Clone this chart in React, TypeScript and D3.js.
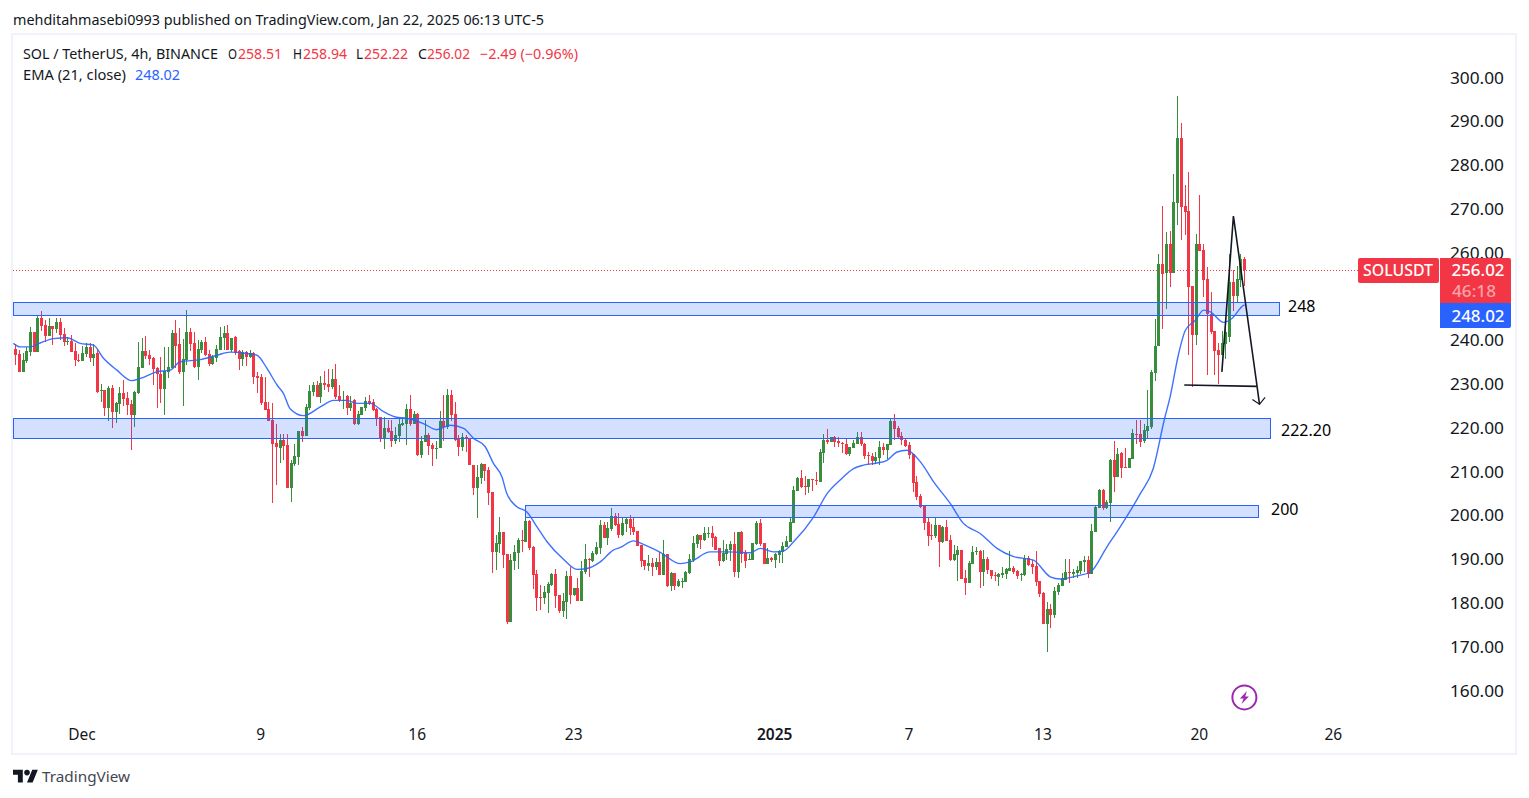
import React from "react";
import * as d3 from "d3";

const opens = [
237.9,236.7,232.7,235.2,237.3,241.8,237.3,245,243.4,240.9,
243.1,242.5,244,241.3,239.6,239.8,237.4,235.5,235.1,236.7,
238.4,235.8,236.9,228.4,228.5,224.5,229,223.6,225.4,227.8,
226.7,225.3,222.8,227.8,233.5,237.4,236.5,235.8,233.5,232.3,
228.8,232.7,233.5,241.5,239,232.6,235.4,241.8,239.3,233.8,
237.7,239.5,236.7,234.5,235.8,237.7,240.4,241.5,237.6,240.6,
237.4,235.6,237.3,236.1,237,231.7,231.5,225.8,224.2,221.7,
216.4,215.3,217.1,216,206.1,211.6,213.2,219.2,218,224.4,
228.1,229.7,226.9,230.1,229.9,229.3,231,227.2,226.2,227.2,
224.4,226.2,220.8,222.8,224.4,226,225.8,224.2,222.4,217.6,
219.9,219.2,216.9,218,220.5,220.8,224.2,220.8,223,213.7,
216.7,218.3,216,215.3,215.3,221.4,220.1,227.4,223,217.3,
215.5,217.8,217.6,211.4,206.1,208.4,211.6,210.3,205.2,191.5,
193.4,196.1,191.1,175.6,189.5,191.3,194.3,193.8,198.6,192.7,
186.5,181.2,181,182.2,184,186.5,181.7,178,180.1,186,
181.7,183.3,180.3,187,189.9,189.5,191.1,192.4,197.7,194.7,
196.8,199.8,197.9,195.4,197.9,199.1,197.2,196.3,193.1,189.7,
188.3,189,188.1,189.2,186.3,191.1,183.8,186.7,183.8,184.7,
184.7,186.7,189.7,193.4,195.4,194.2,195.8,195.9,195,192.4,
189.5,191.1,192,193.3,187,196.1,191.3,189.8,189.7,193.3,
198.2,193.6,188.8,190.2,189.7,190.8,191.5,192.7,193.8,198.2,
205.5,208.4,206.6,206.4,208.2,208,207.5,214.1,217.1,216.6,
217.8,216.9,216.4,216.2,213.9,215.3,216.2,217.8,216.3,213.7,
213.4,212.3,213,215.5,214.8,216,221.4,219.8,218,217.1,
216,213.9,207.5,204.3,202,198.4,195.4,195.2,197.7,193.8,
197.2,194.3,189.7,190.8,192,185.6,184.4,188.8,191.5,191.8,
187,189.9,187.4,186.3,185.8,186.4,186.5,187.3,187.9,187.2,
186.3,186.3,190.2,188.8,188.3,184.9,182.2,175.1,178.5,177.1,
182.4,183.8,185.1,187,186.5,186.7,187.2,189.2,189.7,186.5,
196.1,201.6,205.7,201.6,202.7,212.5,208.7,214.1,210.9,210.7,
212.8,218.6,218.5,216.9,219.2,220.1,232.5,238.6,257.4,255.2,
261.9,255.3,271.3,286.1,270.5,269.4,252.3,241.1,261.9,260.5,
253.9,246,242,237.6,236.5,239,240.7,253.2,250,253.6,258.51,
];

const closes = [
236.5,232.7,235.4,237.4,241.8,237.3,245,243.1,240.9,243.1,
242.5,244,241.1,239.6,239.7,237.2,235.4,235.4,237,238.4,
235.8,236.7,228.1,228.5,224.5,229,223.6,225.6,227.8,226.5,
225.1,222.8,228.1,233.7,237.4,236.4,235.7,233.3,232.2,228.8,
232.9,233.7,241.5,238.6,232.6,235.6,241.8,239,233.7,237.9,
239.5,236.5,234.5,236.1,237.9,240.6,241.5,237.7,240.4,237,
235.6,237.3,236.1,237,231.5,231.3,225.6,224,221.4,216.2,
215.5,217.1,215.7,206.1,211.9,213.5,219.2,218,224.6,228.3,
229.7,226.9,230.1,229.7,229.3,231,226.9,226.2,226.3,224.4,
225.6,220.8,223,224.6,226,225.5,224,222.1,217.6,219.9,
218.9,216.9,218.2,220.8,221,224.2,220.8,223,213.7,216.9,
218.3,215.7,215.1,215.4,221.4,220.1,227.4,222.8,217.1,215.5,
217.8,217.6,211.4,206.1,208.7,211.6,210,205,191.5,193.6,
196.1,190.8,175.6,189.7,191.5,194.3,194.1,198.6,192.4,186.3,
181,181,182.4,184.2,186.5,181.5,178,180.3,186,181.7,
183.3,180.3,187.2,189.9,189.8,191.3,192.7,197.7,194.7,197,
199.8,197.7,195.4,198.2,199.1,197,196.1,192.9,189.5,188.3,
189,188.1,189.2,186.3,191.1,183.8,186.7,183.8,184.9,184.9,
187,189.9,193.6,195.4,194.3,195.9,195.9,194.7,192.1,189.5,
191.3,192.2,193.3,187,196.1,191.1,189.5,189.9,193.6,198.2,
193.3,188.8,190.2,189.7,191.1,191.8,192.9,194,198.4,205.7,
208.4,206.4,206.4,208.2,208,207.8,214.4,217.1,216.6,217.8,
216.6,216.4,216.2,213.9,215.5,216.4,217.8,216.2,213.5,213.4,
212.3,213.2,215.5,214.8,216.2,221.4,219.6,217.8,217.1,215.7,
213.7,207.3,204.1,201.8,198.2,195.2,195.3,197.7,193.8,197.2,
194,189.7,191.1,192,185.4,184.4,189,191.5,191.8,187,
189.9,187.4,186,186.1,186.5,186.7,187.6,187.9,187,186,
186.5,190.2,188.6,188.1,184.7,181.9,175.1,178.5,177.1,182.6,
184,185.6,187,186.7,187,187.4,189.5,189.7,186.5,196.3,
201.8,205.7,201.6,203,212.5,208.7,213.9,210.7,210.7,213,
218.7,218.5,216.6,219.4,220.3,232.7,238.7,257.4,255,261.9,
255.3,271.4,286.1,270.4,269.2,252.1,241.1,261.9,260.3,253.6,
246,241.8,237.4,236.5,239.2,241.7,253.2,250,253.9,258.4,256.02,
];

const highs = [
239,237.7,236.9,238.3,243,241.9,245.6,246.6,244.5,245.1,
243.1,245,245.1,242.8,240.6,241.1,239.2,236.7,238.6,239.2,
239.2,239,238,230,228.5,229.4,229.7,225.8,229.2,230.8,
228.1,226.2,228.3,239.6,240.4,240.9,237.7,236.1,233.7,236.1,
238.4,238.3,242.2,244.5,242.7,240.3,246.8,242.7,241.8,239.9,
239.9,240.6,237.7,236.5,238.8,243,243.1,243.4,240.4,240.9,
237.7,237.7,237.4,237.7,237.3,232.6,232.2,231.6,225.8,225.6,
220.9,218.5,218.5,218.5,212.5,216.2,219.2,220.1,225.3,229.7,
230.4,230.6,231.7,232.9,233.3,233.3,234.5,229.7,228.3,227.4,
227.2,226.5,223.7,224.6,226.9,227.4,226.5,224.4,222.4,222.4,
221.7,221.7,220.1,221.9,222.1,225.3,227.4,223.7,223.3,218,
221.7,218.7,216.4,216.9,223.7,227.4,228.8,228.5,225.8,218.3,
218.7,218.3,217.6,211.4,211.4,211.8,211.6,210.9,205.2,195.4,
199.5,196.1,191.1,191.1,193.1,194.7,196.5,202,198.8,192.9,
187.4,184,183.8,184.7,186.7,187.7,181.7,182.2,187.2,188.1,
183.3,185.6,189.5,193.4,190.2,191.8,193.8,198.8,198.4,198.4,
201.6,200.4,200.4,199.3,199.5,200,199.4,196.3,193.1,189.8,
190.8,190.2,190.2,191.5,194.3,191.2,187,186.7,185.3,185.6,
187.2,191.1,195.2,195.6,195.4,197.2,197.2,197.5,195.2,192.4,
194.3,193.3,194,196.1,196.1,196.3,192,191.1,193.6,198.6,
199.1,193.6,192.4,190.5,191.3,192,193.8,195.2,199.5,206.6,
208.7,210.3,208.9,208.2,208.2,209.8,215,218.5,219.6,217.8,
218,217.8,216.6,217.6,215.5,217.1,218.9,218.9,216.4,214.4,
214.1,214.4,216.9,216.4,216.2,221.9,223,220.3,218.9,217.3,
216.6,213.9,208.9,204.8,202,199.3,197.9,199.3,197.7,197.5,
198.8,195.4,193.1,192.9,192,187.4,189.5,192.9,192.7,192,
192,190.4,187.4,187,186.7,188.1,187.9,191.8,188.3,187.4,
186.7,190.8,190.6,189.7,191.8,184.9,182.4,180.1,179.7,183.5,
184.4,186.7,189.9,189.9,187.6,188.3,189.5,190.6,190.6,197.9,
202,205.9,205.9,203.4,212.7,216.9,215.3,214.4,215.3,213,
219.6,221.8,221.8,220.9,228.5,233.1,244.7,259.7,270.5,264.6,
264.8,277.9,295.7,289.5,275.3,278.3,252.3,264.1,273.1,261.9,
256.6,250.9,242,239.2,242,244.5,259.7,255.9,256.8,259.6,258.94,
];

const lows = [
234.2,232.7,232.7,234.8,236.4,237.3,237.3,242.1,239.6,240.9,
238.8,241.5,239.9,238.6,238.8,237.2,234,234.9,235.1,236,
235,234,227.8,225.9,222.6,221.5,219.9,221.1,223,225,
222.8,214.8,220.2,227.6,233.5,235.6,234.2,229.7,224.5,225.6,
222.8,231.3,233.5,233.5,232.2,224.9,234.2,237.4,233.5,230.8,
236.9,236.3,234,234.2,235,237.7,237.7,237.7,237.3,236.5,
233.1,234,234,235.8,229.9,227.8,225.1,224,221.4,202.7,
206.8,211.9,212.5,206.1,203,211.2,211.4,216.6,218,224,
227.2,226.9,225.6,228.5,228.1,228.7,226.5,225.8,224.2,222.8,
223.7,220.5,220.5,222.8,223.7,225.1,223.7,220.3,216.7,215.1,
218.7,215.5,216.2,216.7,220.3,216,220.3,220.8,213.5,213,
216.7,213.7,211.2,212.8,215.3,216.9,219.6,221.4,216.9,213.5,
214.6,214.4,211.4,204.6,199.3,207.1,207.7,202.3,186.7,187.4,
191.3,187.9,175.1,175.6,187.4,187.6,191.5,193.8,192,183.1,
178.1,178.3,179.7,177.6,183.8,178.7,177.6,176.7,176.2,179.7,
181.5,180.3,180.3,186.5,185.8,189.3,190.8,191.1,194.7,193.1,
196.3,197.5,194.7,195.2,196.2,195.4,195.4,192.9,188.2,187.4,
187.2,186.1,187.4,186.3,186.3,183.5,182.6,182.9,183.6,183.3,
184.7,186.6,189.2,192.4,192.2,194,194.7,192.7,192,188.3,
189.2,189.7,189.5,185.8,185.6,189,187.9,189.7,189.7,193.1,
192.9,188.8,188.8,189.3,187.9,189,189,192.7,193.8,198.2,
205.5,206.1,204.5,205,205.5,206.8,207.5,211.9,216.2,216.6,
215.5,215.5,214.1,213.7,213.5,215.3,216.2,215.7,212.8,211.4,
211.4,211.6,211.4,213.7,212.8,216,217.1,217.3,216,215.5,
212.8,205.2,203.4,201.6,196.6,192.9,194.3,194.7,188.1,193.6,
194,189.5,189.5,184.9,185.4,181.7,184.4,188.8,190.8,183.3,
183.8,186.5,185.4,184.9,183.8,185.6,185.4,187.2,186.5,185.4,
184.9,186,188.3,186.5,183.8,181.2,175.1,168.7,174.2,176.5,
181.7,183.8,185.1,184.4,185.6,185.6,186.5,187,185.6,186.5,
196.1,201.6,201.1,201.3,198.4,205.2,208.7,208.4,210.7,210.7,
212.8,216.2,215.6,216.4,217.5,219.6,230.6,238.6,242.5,247.1,
252.1,255.3,266.2,262.8,263.9,236.5,229.3,238.8,260.3,249.8,
231.9,241.3,231.9,229.9,236.5,235.7,239.6,246.6,248.6,252,252.22,
];

const emaIdx = [-0.6,1.2,3.9,6.6,10.2,13.8,17.3,20.9,23.6,27.2,31.2,33.5,37.9,41.5,44.2,49.6,54.1,57.6,62.1,64.8,67.5,70.2,71.9,73.7,77.3,81.8,
85.4,89,91.6,95.2,98.8,102,105.1,109.5,113.1,116.7,120.3,123,126.1,128.3,130.6,131.9,134.6,137.3,140,142.7,147.1,150.7,153.4,157,160.5,162.4,
165.9,168.6,173.1,178.5,181.1,186.5,191,197.3,200,203.5,206.2,208.9,214.3,217.9,221.4,225,227.7,231.3,234,236.7,239.3,242.9,
246.5,251,254.5,259,263.5,268,273.3,277.8,280.5,285,288.6,293,296.6,302,305.5,308.5,310,312.3,314.1,316.8,319,320.8,324.4,326.6,329.7,330];
const emaVal = [239.2,238.4,238.4,239.3,240.3,240.5,239.2,238.8,235.8,233.1,230.7,231.2,232.7,233.1,235,235.5,236.5,237.2,236.9,236.5,233.5,229.7,227.8,224.3,222.7,224.7,
226.2,226.2,225.5,225.5,223.6,222.4,222.1,220.9,219.5,220.5,219.8,217.5,215.6,211.8,208.7,204.9,201.9,200.7,197.3,193.9,189.9,187.6,187.8,189.3,192,192.6,
194.1,193.3,191.5,188.9,189.3,191.6,191.6,191.4,192.4,191.6,191.8,193.9,199.6,204.9,208,210.6,211.4,211.9,212.5,214.4,214.8,212.2,
207.6,202.6,198.1,195.8,192.4,190.5,189.7,185.9,185.4,186.1,187,192.7,197.3,204.9,210.7,222,227,236.9,242.2,244.5,246.8,246.4,244,244.9,247.9,248.02];

const priceTicks = [300,290,280,270,260,240,230,220,210,200,190,180,170,160];
const timeTickIdx = [18,66,108,150,204,240,276,318,354];
const timeTickLabels = ["Dec","9","16","23","2025","7","13","20","26"];

const zoneLabels = ["248","222.20","200"];
const zoneTop = [248.55,222.2,202.2];
const zoneBottom = [245.6,217.5,199.5];
const zoneStart = [-0.6,-0.6,136.9];
const zoneEnd = [339.3,336.9,333.5];
const zoneLabelGap = [9,11,13];
const zoneLabelShift = [-3,2,-2];

const drawnIdx = [323.9,327,333.3,334];
const drawnPrice = [232.7,268.3,229.7,225.3];
const headIdx = [332.1,334,335.5];
const headPrice = [226.4,225.3,226.9];
const floorIdx = [313.8,333.3];
const floorPrice = [229.7,229.4];

const lastClose = 256.02;
const lastEma = 248.02;

const GREEN = "#388E3C";
const RED = "#F23645";
const BLUE = "#2962FF";
const INK = "#131722";
const FONT = "'Noto Sans', sans-serif";

const x = d3.scaleLinear().domain([0, 330]).range([15.6, 1244.6]);
const y = d3.scaleLinear().domain([300, 160]).range([77.2, 690.2]);

type TProps = { px: number; py: number; w?: number; fill?: string; size?: number; anchor?: string; weight?: number; children: React.ReactNode };
function T({ px, py, w, fill = INK, size = 14, anchor = "start", weight = 400, children }: TProps) {
  return (
    <text x={px} y={py} fill={fill} fontSize={size} fontFamily={FONT} fontWeight={weight} textAnchor={anchor as any}
      dominantBaseline="central" {...(w ? { textLength: w, lengthAdjust: "spacingAndGlyphs" } : {})}>
      {children}
    </text>
  );
}

export default function App() {
  const ema = d3.line<number>().x((_, i) => x(emaIdx[i])).y((d) => y(d)).curve(d3.curveMonotoneX)(emaVal) ?? "";
  const poly = (a: number[], b: number[]) => d3.line<number>().x((d) => x(d)).y((_, i) => y(b[i]))(a) ?? "";
  return (
    <svg width={1529} height={798} viewBox="0 0 1529 798" style={{ position: "absolute", left: 0, top: 0, background: "#fff" }}>
      <rect x={12} y={34} width={1504} height={720} fill="#fff" stroke="#F0F3FA" strokeWidth={2} />

      <T px={13} py={19} w={531}>mehditahmasebi0993 published on TradingView.com, Jan 22, 2025 06:13 UTC-5</T>
      <T px={23} py={53.5} w={195}>SOL / TetherUS, 4h, BINANCE</T>
      <T px={228} py={53.5} w={9}>O</T>
      <T px={238} py={53.5} w={44} fill={RED}>258.51</T>
      <T px={293} py={53.5} w={9}>H</T>
      <T px={303} py={53.5} w={44} fill={RED}>258.94</T>
      <T px={356} py={53.5} w={7}>L</T>
      <T px={364} py={53.5} w={44} fill={RED}>252.22</T>
      <T px={418} py={53.5} w={9}>C</T>
      <T px={427} py={53.5} w={43} fill={RED}>256.02</T>
      <T px={480} py={53.5} w={98} fill={RED}>−2.49 (−0.96%)</T>
      <T px={23} py={74.5} w={103}>EMA (21, close)</T>
      <T px={135} py={74.5} w={45} fill={BLUE}>248.02</T>

      <line x1={13} x2={1358} y1={Math.round(y(lastClose)) + 0.5} y2={Math.round(y(lastClose)) + 0.5} stroke={RED} strokeWidth={1} strokeDasharray="1 2" />

      <g shapeRendering="crispEdges">
        {opens.map((o, i) => {
          const c = closes[i];
          const col = c >= o ? GREEN : RED;
          const cx = Math.floor(x(i));
          const top = Math.round(y(Math.max(o, c)));
          const bot = Math.round(y(Math.min(o, c)));
          const hi = Math.round(y(highs[i]));
          const lo = Math.round(y(lows[i]));
          return (
            <g key={i} fill={col}>
              <rect x={cx} y={hi} width={1} height={Math.max(1, lo - hi)} />
              <rect x={cx - 1} y={top} width={3} height={Math.max(1, bot - top)} />
            </g>
          );
        })}
      </g>

      <path d={ema} fill="none" stroke={BLUE} strokeWidth={1.4} strokeOpacity={0.9} />

      {zoneLabels.map((l, i) => {
        const x0 = Math.round(x(zoneStart[i]));
        const x1 = Math.round(x(zoneEnd[i]));
        const t = Math.round(y(zoneTop[i]));
        const b = Math.round(y(zoneBottom[i]));
        return (
          <g key={l}>
            <rect x={x0 + 0.5} y={t + 0.5} width={x1 - x0} height={b - t} fill={BLUE} fillOpacity={0.2} stroke={BLUE} strokeWidth={1} />
            <T px={x1 + zoneLabelGap[i]} py={(t + b) / 2 + zoneLabelShift[i]} size={16} fill="#000">{l}</T>
          </g>
        );
      })}

      <g fill="none" stroke={INK} strokeWidth={1.6}>
        <path d={poly(drawnIdx, drawnPrice)} />
        <path d={poly(floorIdx, floorPrice)} />
        <path d={poly(headIdx, headPrice)} strokeWidth={1.2} />
      </g>

      {priceTicks.map((p) => (
        <T key={p} px={1504} py={y(p) + 0.4} anchor="end" size={16} w={54} fill={INK}>{p.toFixed(2)}</T>
      ))}

      {timeTickLabels.map((l, i) => (
        <T key={l} px={x(timeTickIdx[i]) - 0.6} py={734} anchor="middle" size={15.5} weight={l === "2025" ? 600 : 400}>{l}</T>
      ))}

      <rect x={1358} y={258} width={81} height={25} rx={2} fill={RED} />
      <T px={1398} py={270} anchor="middle" size={15.5} fill="#fff" weight={500} w={70}>SOLUSDT</T>
      <path d="M1440 258h69a2 2 0 0 1 2 2v43h-71z" fill={RED} />
      <T px={1478} py={270} anchor="middle" size={16} fill="#fff" weight={500} w={53}>{lastClose.toFixed(2)}</T>
      <T px={1474} py={291} anchor="middle" size={16} fill="#fff" weight={500} w={44}><tspan fillOpacity={0.55}>46:18</tspan></T>
      <path d="M1440 303h71v23a2 2 0 0 1 -2 2h-69z" fill={BLUE} />
      <T px={1478} py={316} anchor="middle" size={16} fill="#fff" weight={500} w={53}>{lastEma.toFixed(2)}</T>

      <g transform="translate(1244.4,697.4)">
        <circle r={12} fill="#fff" stroke="#9C27B0" strokeWidth={2} />
        <path d="M2.5 -6.5 L-4.5 1 H-0.8 L-2.8 6.5 L4.5 -1 H0.8 Z" fill="#9C27B0" />
      </g>

      <g transform="translate(13,767) scale(0.7)" fill={INK}>
        <path d="M14 22H7V11H0V4h14v18zM28 22h-8l7.5-18h8L28 22z" />
        <circle cx={20} cy={8} r={4} />
      </g>
      <T px={42} py={776} w={88} size={15} fill="#434651">TradingView</T>
    </svg>
  );
}
